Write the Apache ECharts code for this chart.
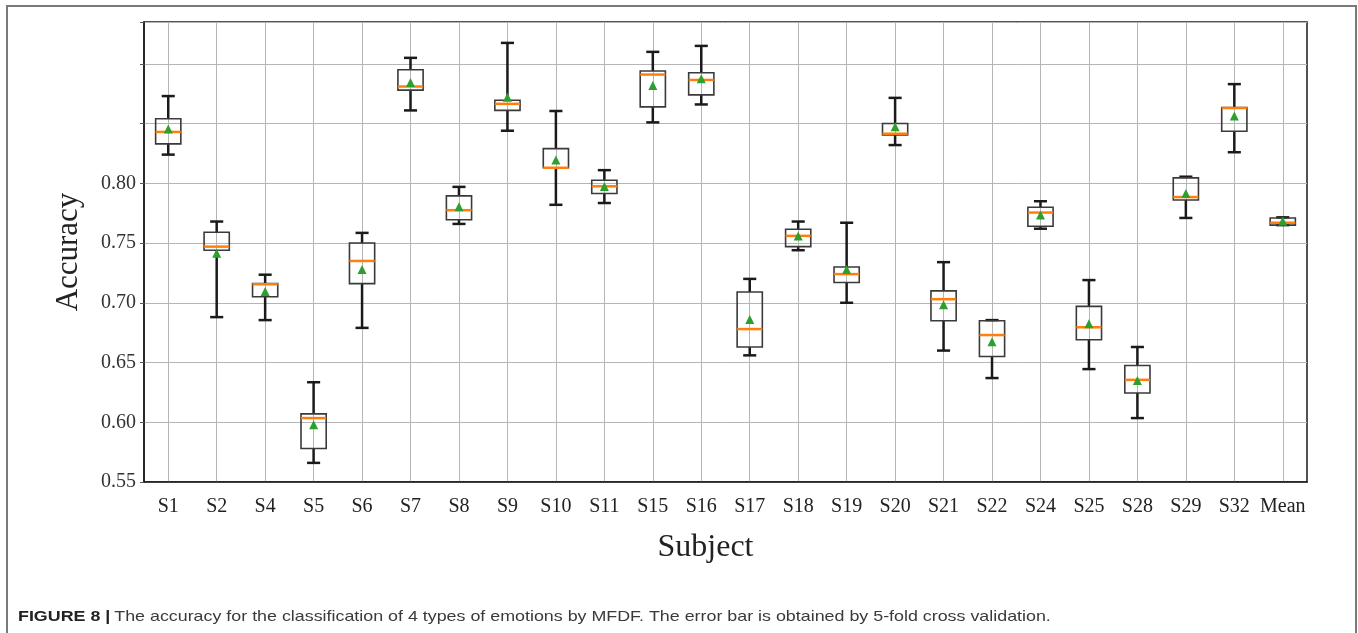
<!DOCTYPE html>
<html>
<head>
<meta charset="utf-8">
<title>MFDF accuracy</title>
<script src="https://cdn.jsdelivr.net/npm/echarts@6/dist/echarts.min.js"></script>
<style>
    html, body { margin: 0; padding: 0; background: #fff; }
    #char1 { width: 1358px; height: 633px; }
</style>
</head>
<body>
<div id="char1"></div>
<script>
// subjects on the x axis
var subjects = ['S1', 'S2', 'S4', 'S5', 'S6', 'S7', 'S8', 'S9', 'S10', 'S11', 'S15', 'S16',
    'S17', 'S18', 'S19', 'S20', 'S21', 'S22', 'S24', 'S25', 'S28', 'S29', 'S32', 'Mean'];

// 5-fold box statistics
var lows    = [0.824, 0.688, 0.6855, 0.566, 0.679, 0.861, 0.766, 0.844, 0.782, 0.7835, 0.851, 0.866,
    0.656, 0.744, 0.700, 0.832, 0.660, 0.637, 0.762, 0.6445, 0.6035, 0.771, 0.826, 0.765];
var q1s     = [0.833, 0.744, 0.705, 0.578, 0.716, 0.878, 0.7695, 0.861, 0.813, 0.7915, 0.864, 0.874,
    0.663, 0.747, 0.717, 0.8405, 0.685, 0.655, 0.764, 0.669, 0.6245, 0.786, 0.8435, 0.765];
var medians = [0.843, 0.747, 0.7155, 0.6035, 0.735, 0.881, 0.7775, 0.8665, 0.813, 0.7975, 0.891, 0.8865,
    0.678, 0.756, 0.724, 0.8415, 0.703, 0.673, 0.7755, 0.6795, 0.6355, 0.7885, 0.863, 0.767];
var q3s     = [0.854, 0.759, 0.716, 0.607, 0.750, 0.895, 0.7895, 0.8695, 0.829, 0.8025, 0.894, 0.8925,
    0.709, 0.7615, 0.730, 0.850, 0.710, 0.685, 0.780, 0.697, 0.6475, 0.8045, 0.8635, 0.771];
var highs   = [0.873, 0.768, 0.7235, 0.6335, 0.7585, 0.905, 0.797, 0.9175, 0.8605, 0.811, 0.910, 0.915,
    0.720, 0.768, 0.767, 0.8715, 0.734, 0.6855, 0.785, 0.719, 0.663, 0.8055, 0.883, 0.7715];
var means   = [0.845, 0.741, 0.709, 0.5975, 0.7275, 0.884, 0.780, 0.8715, 0.819, 0.797, 0.8815, 0.887,
    0.6855, 0.7555, 0.7275, 0.847, 0.698, 0.667, 0.773, 0.682, 0.6345, 0.791, 0.856, 0.768];

// y axis: labels only up to 0.80
var yMin = 0.55, yMax = 0.935, yStep = 0.05, yLabelTop = 0.80;

var caption = 'The accuracy for the classification of 4 types of emotions by MFDF. The error bar is obtained by 5-fold cross validation.';

var boxData = subjects.map(function (s, i) {
    return [i, lows[i], q1s[i], medians[i], q3s[i], highs[i], means[i]];
});

// whiskers + box + median + mean triangle, drawn like matplotlib boxplot
function renderBox(params, api) {
    var i = api.value(0);
    var band = api.size([1, 0])[0];
    var boxW = band * 0.52, capW = band * 0.27;
    var pLow = api.coord([i, api.value(1)]);
    var pQ1 = api.coord([i, api.value(2)]);
    var pMed = api.coord([i, api.value(3)]);
    var pQ3 = api.coord([i, api.value(4)]);
    var pHigh = api.coord([i, api.value(5)]);
    var pMean = api.coord([i, api.value(6)]);
    var x = pLow[0];
    var black = { stroke: '#1a1a1a', lineWidth: 2.5 };
    return {
        type: 'group',
        children: [
            { type: 'line', shape: { x1: x, y1: pQ3[1], x2: x, y2: pHigh[1] }, style: black },
            { type: 'line', shape: { x1: x, y1: pQ1[1], x2: x, y2: pLow[1] }, style: black },
            { type: 'line', shape: { x1: x - capW / 2, y1: pHigh[1], x2: x + capW / 2, y2: pHigh[1] }, style: black },
            { type: 'line', shape: { x1: x - capW / 2, y1: pLow[1], x2: x + capW / 2, y2: pLow[1] }, style: black },
            {
                type: 'rect',
                shape: { x: x - boxW / 2, y: pQ3[1], width: boxW, height: pQ1[1] - pQ3[1] },
                style: { fill: 'none', stroke: '#3a3a3a', lineWidth: 1.6 }
            },
            {
                type: 'line',
                shape: { x1: x - boxW / 2, y1: pMed[1], x2: x + boxW / 2, y2: pMed[1] },
                style: { stroke: '#ff7f0e', lineWidth: 2.5 }
            },
            {
                type: 'polygon',
                shape: { points: [[x, pMean[1] - 5], [x - 4.5, pMean[1] + 4], [x + 4.5, pMean[1] + 4]] },
                style: { fill: '#2ca02c' }
            }
        ]
    };
}

var myChart = echarts.init(document.getElementById('char1'));

var option = {
    animation: false,
    backgroundColor: '#fff',
    grid: {
        left: 144,
        right: 51,
        top: 22,
        bottom: 151,
        show: true,
        borderColor: '#1a1a1a',
        borderWidth: 1.5,
        backgroundColor: 'transparent'
    },
    xAxis: {
        type: 'category',
        data: subjects,
        boundaryGap: true,
        name: 'Subject',
        nameLocation: 'middle',
        nameGap: 50,
        nameTextStyle: {
            fontFamily: 'Liberation Serif', fontSize: 32, color: '#222',
            padding: [0, 40, 0, 0]
        },
        axisLine: { lineStyle: { color: '#1a1a1a', width: 1.5 } },
        axisTick: { alignWithLabel: true, length: 4, lineStyle: { color: '#333' } },
        axisLabel: { interval: 0, margin: 15, fontFamily: 'Liberation Serif', fontSize: 20, color: '#222' },
        splitLine: { show: true, alignWithLabel: true, lineStyle: { color: '#b5b5b5', width: 1 } }
    },
    yAxis: {
        type: 'value',
        min: yMin,
        max: yMax,
        interval: yStep,
        name: 'Accuracy',
        nameLocation: 'middle',
        nameRotate: 90,
        nameGap: 60,
        nameTextStyle: { fontFamily: 'Liberation Serif', fontSize: 31, color: '#222' },
        axisLine: { show: true, lineStyle: { color: '#1a1a1a', width: 1.5 } },
        axisTick: { show: true, length: 4, lineStyle: { color: '#555' } },
        axisLabel: {
            margin: 8,
            fontFamily: 'Liberation Serif',
            fontSize: 20,
            color: '#333',
            formatter: function (v) {
                return v <= yLabelTop + 1e-6 ? v.toFixed(2) : '';
            }
        },
        splitLine: { show: true, lineStyle: { color: '#b5b5b5', width: 1 } }
    },
    graphic: [
        {
            type: 'rect',
            shape: { x: 7, y: 6, width: 1349, height: 640 },
            style: { fill: 'none', stroke: '#7a7a7a', lineWidth: 2 },
            silent: true
        },
        {
            // caption is set in a wide sans, stretched like the source
            type: 'text',
            x: 18,
            y: 609,
            scaleX: 1.19,
            style: {
                text: '{b|FIGURE 8 |} {n|' + caption + '}',
                rich: {
                    b: { fontFamily: 'Liberation Sans', fontWeight: 'bold', fontSize: 15, fill: '#222' },
                    n: { fontFamily: 'Liberation Sans', fontSize: 15, fill: '#3a3a3a' }
                }
            }
        }
    ],
    series: [
        {
            name: 'Accuracy',
            type: 'custom',
            renderItem: renderBox,
            encode: { x: 0, y: [1, 2, 3, 4, 5, 6] },
            data: boxData,
            z: 3
        }
    ]
};

myChart.setOption(option);
window.addEventListener('resize', function () { myChart.resize(); });
</script>
</body>
</html>
